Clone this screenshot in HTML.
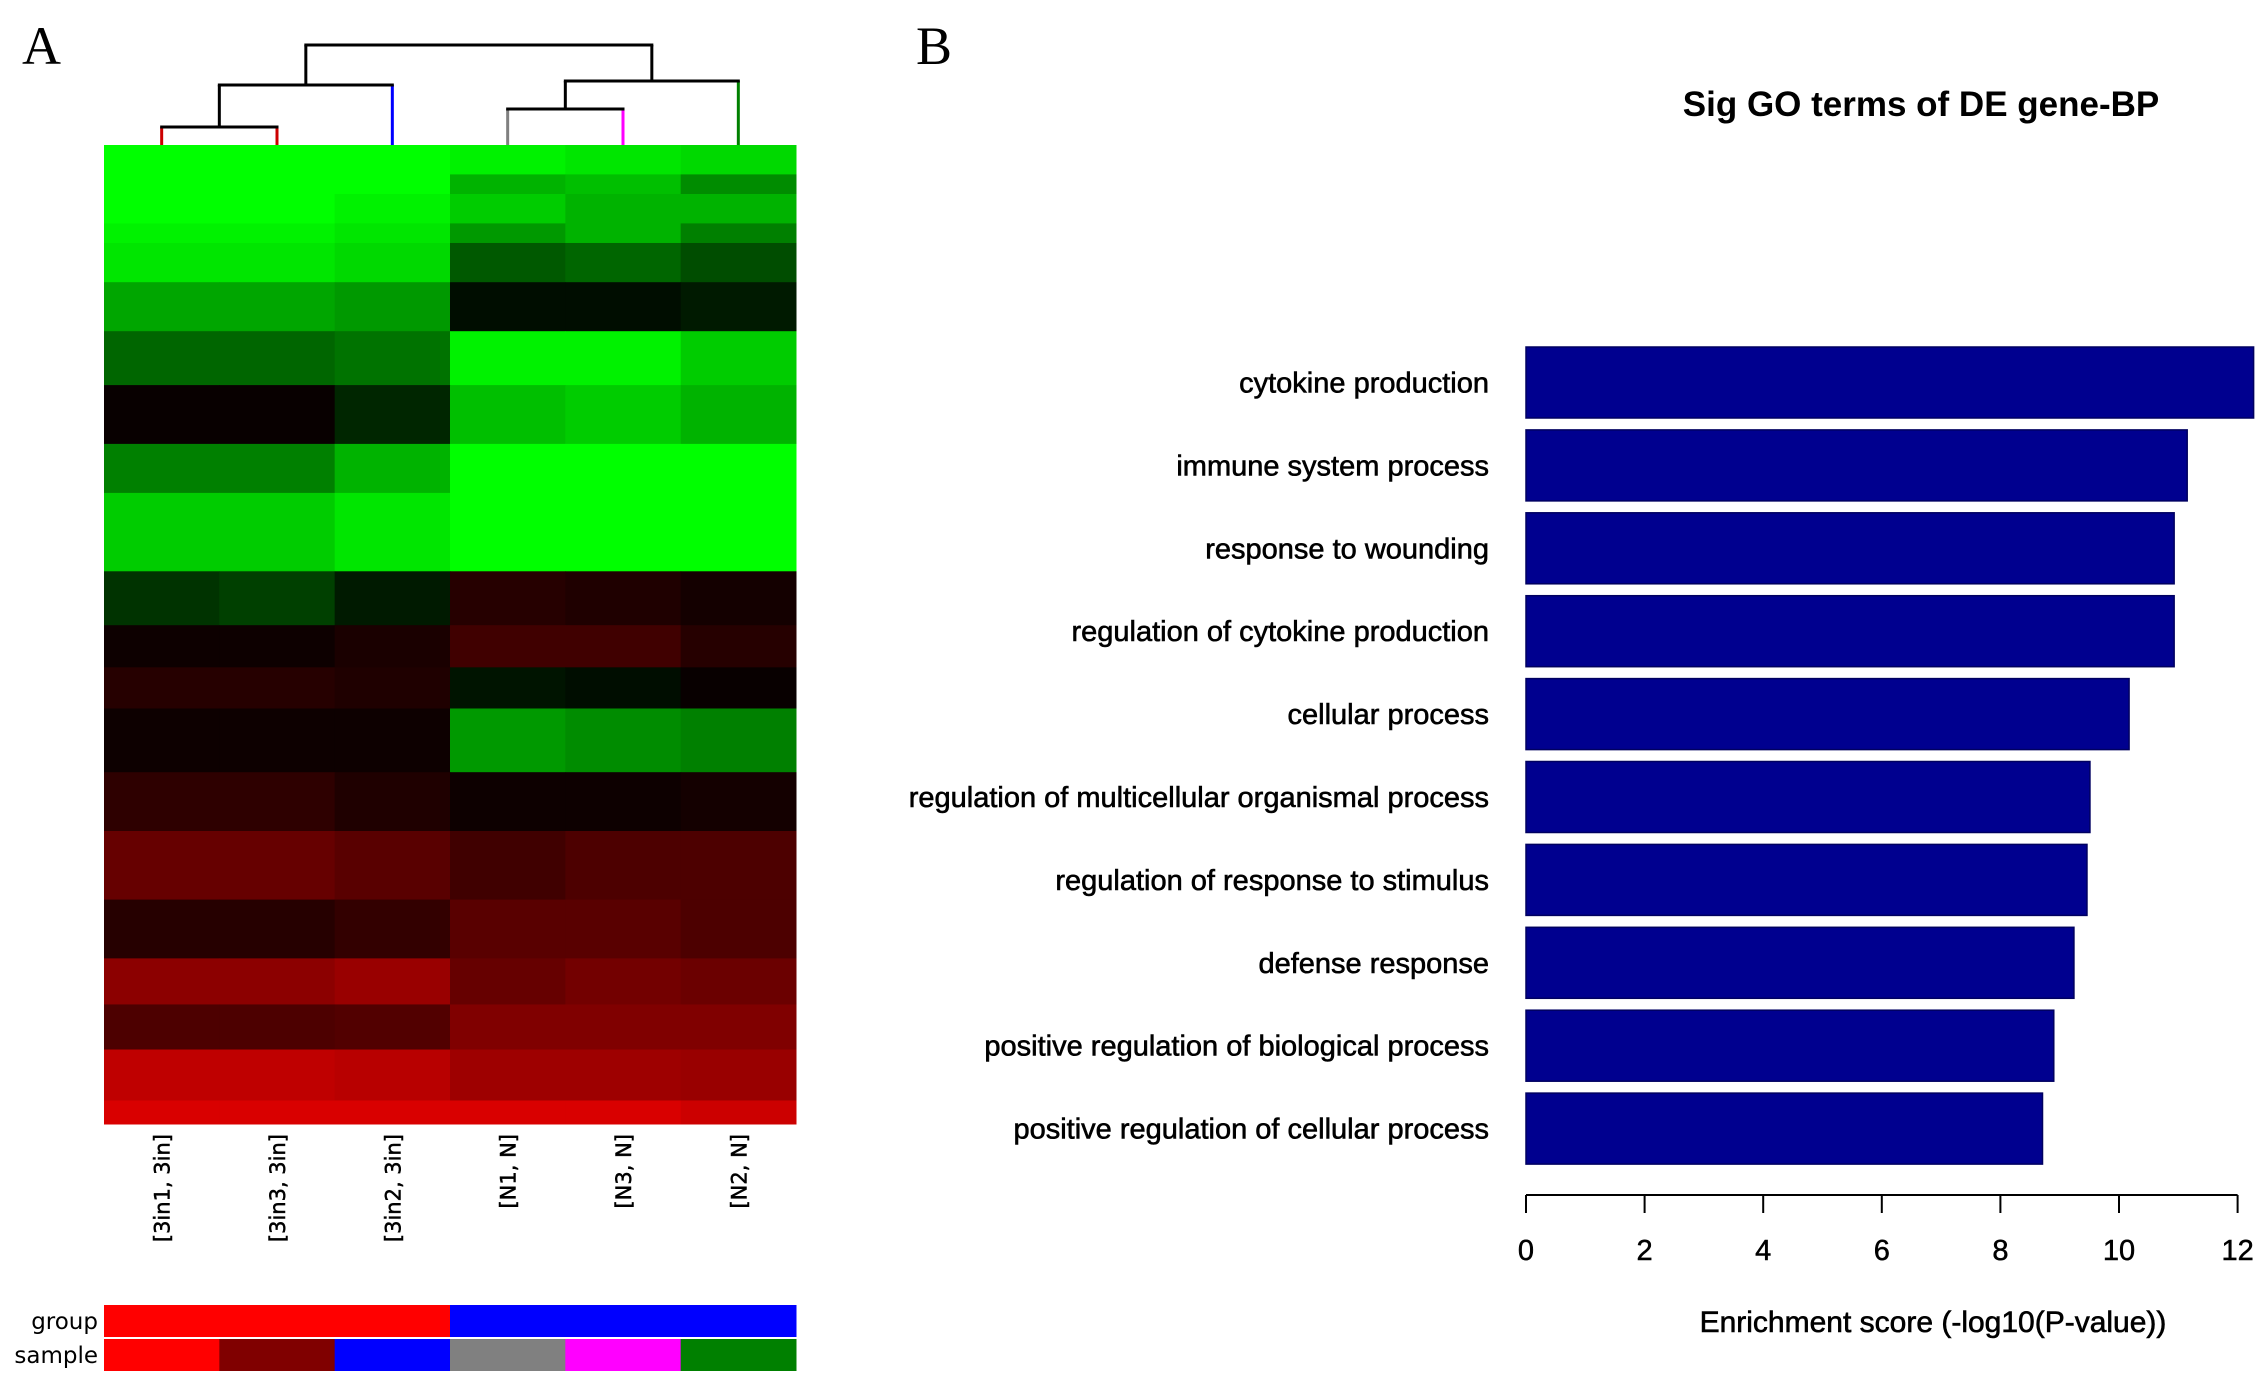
<!DOCTYPE html>
<html><head><meta charset="utf-8"><style>
html,body{margin:0;padding:0;background:#fff;}
svg{display:block;font-family:"Liberation Sans",Arial,sans-serif;}
</style></head><body>
<svg id="fig" width="2268" height="1385" viewBox="0 0 2268 1385" xmlns="http://www.w3.org/2000/svg">
<text x="22" y="64" font-family="Liberation Serif,serif" font-size="54">A</text>
<text x="916" y="64" font-family="Liberation Serif,serif" font-size="54">B</text>
<g id="heat"></g>
<g id="dend"></g>
<g id="collabs"></g>
<g id="anno"></g>
<text x="1921" y="116" text-anchor="middle" font-size="35" font-weight="bold">Sig GO terms of DE gene-BP</text>
<g id="bars"></g>
<g id="xaxis"></g>
<text x="1933" y="1332" text-anchor="middle" font-size="30" stroke="#000" stroke-width="0.6">Enrichment score (-log10(P-value))</text>
</svg>
<script>
// ---------- Heatmap data ----------
const sampleNames = ["[3in1, 3in]","[3in3, 3in]","[3in2, 3in]","[N1, N]","[N3, N]","[N2, N]"];
const blockRows = [30,20,30,20,40,50,55,60,50,80,55,43,42,65,60,70,60,47,46,52,24];
const blockValues = [
 [-1,-1,-1,-0.95,-0.9,-0.85],
 [-1,-1,-1,-0.7,-0.75,-0.55],
 [-1,-1,-0.95,-0.8,-0.7,-0.7],
 [-0.95,-0.95,-0.9,-0.6,-0.7,-0.5],
 [-0.9,-0.9,-0.85,-0.35,-0.4,-0.3],
 [-0.65,-0.65,-0.6,-0.05,-0.05,-0.1],
 [-0.4,-0.4,-0.45,-0.95,-0.95,-0.8],
 [0.03,0.03,-0.15,-0.75,-0.8,-0.7],
 [-0.5,-0.5,-0.7,-1,-1,-1],
 [-0.8,-0.8,-0.9,-1,-1,-1],
 [-0.2,-0.25,-0.1,0.15,0.12,0.08],
 [0.05,0.05,0.1,0.25,0.25,0.15],
 [0.15,0.15,0.12,-0.08,-0.05,0.03],
 [0.05,0.05,0.05,-0.6,-0.55,-0.5],
 [0.18,0.18,0.12,0.05,0.05,0.08],
 [0.4,0.4,0.35,0.25,0.3,0.3],
 [0.15,0.15,0.2,0.35,0.35,0.3],
 [0.55,0.55,0.6,0.4,0.45,0.42],
 [0.3,0.3,0.32,0.5,0.5,0.5],
 [0.75,0.75,0.72,0.62,0.62,0.6],
 [0.85,0.85,0.85,0.85,0.85,0.8]
];
const groupColors = ["#ff0000","#ff0000","#ff0000","#0000ff","#0000ff","#0000ff"];
const sampleColors = ["#ff0000","#800000","#0000ff","#808080","#ff00ff","#008000"];
const leafColors = ["#cc0000","#cc0000","#0000ff","#808080","#ff00ff","#008000"];
const merges = [[0,1,0.18],[3,4,0.36],[6,2,0.6],[7,5,0.64],[8,9,1.0]];

const NS="http://www.w3.org/2000/svg";
function mk(tag,attrs,parent){const e=document.createElementNS(NS,tag);for(const k in attrs)e.setAttribute(k,attrs[k]);parent.appendChild(e);return e;}
const HX0=104,HX1=796,HY0=145,HY1=1124;
const nCol=sampleNames.length, colW=(HX1-HX0)/nCol;
const totalRows=blockRows.reduce((a,b)=>a+b,0);
const rowScale=v=>HY0+(HY1-HY0)*v/totalRows;
const colX=i=>HX0+i*colW;
function color(v){const c=Math.round(Math.min(1,Math.abs(v))*255);return v<0?`rgb(0,${c},0)`:`rgb(${c},0,0)`;}
const heat=document.getElementById('heat');
let acc=0;
blockRows.forEach((n,b)=>{
  for(let j=0;j<nCol;j++){
    const r=mk('rect',{x:colX(j),y:rowScale(acc),width:colW+0.5,height:rowScale(acc+n)-rowScale(acc)+0.5,fill:color(blockValues[b][j])},heat);
    
    
  }
  acc+=n;
});
const dend=document.getElementById('dend');
const DY0=145,DY1=45;
const hScale=h=>DY0-(DY0-DY1)*h;
const nodes=[];
for(let i=0;i<nCol;i++)nodes.push({x:colX(i)+colW/2,h:0,c:leafColors[i]});
merges.forEach(m=>{
  const a=nodes[m[0]],b=nodes[m[1]],y=hScale(m[2]);
  const la=mk('line',{x1:a.x,y1:hScale(a.h),x2:a.x,y2:y,stroke:a.c||'#000','stroke-width':3},dend);
  
  
  const lb=mk('line',{x1:b.x,y1:hScale(b.h),x2:b.x,y2:y,stroke:b.c||'#000','stroke-width':3},dend);
  
  
  const lh=mk('line',{x1:a.x-1.5,y1:y,x2:b.x+1.5,y2:y,stroke:'#000','stroke-width':3},dend);
  
  
  nodes.push({x:(a.x+b.x)/2,h:m[2],c:'#000'});
});
const cl=document.getElementById('collabs');
sampleNames.forEach((s,i)=>{
  const x=colX(i)+colW/2+8,y=1134;
  const t=mk('text',{x:x,y:y,transform:`rotate(-90 ${x} ${y})`,'text-anchor':'end','font-size':21,stroke:'#000','stroke-width':0.5,'font-family':'DejaVu Sans,Liberation Sans,sans-serif'},cl);
  t.textContent=s;
  
  
});
const an=document.getElementById('anno');
[[groupColors,1305,'group'],[sampleColors,1339,'sample']].forEach(([cols,y,lab])=>{
  cols.forEach((c,i)=>{
    const r=mk('rect',{x:colX(i),y:y,width:colW+0.5,height:32,fill:c},an);
    
    
  });
  const t=mk('text',{x:98,y:y+24,'text-anchor':'end','font-size':23,'font-family':'DejaVu Sans,Liberation Sans,sans-serif'},an);
  t.textContent=lab;
  
  
});

// ---------- Bar chart data ----------
const goTerms = ["cytokine production","immune system process","response to wounding","regulation of cytokine production","cellular process","regulation of multicellular organismal process","regulation of response to stimulus","defense response","positive regulation of biological process","positive regulation of cellular process"];
const scores = [12.27,11.15,10.93,10.93,10.17,9.51,9.46,9.24,8.9,8.71];
const xTicks = [0,2,4,6,8,10,12];
const BX0=1526, PXU=59.3, BY0=347, PITCH=82.9, BH=71;
const xs=v=>BX0+v*PXU;
const ys=i=>BY0+i*PITCH;
const bars=document.getElementById('bars');
goTerms.forEach((g,i)=>{
  const r=mk('rect',{x:xs(0),y:ys(i),width:xs(scores[i])-xs(0),height:BH,fill:'#00008f',stroke:'#000060','stroke-width':1.5},bars);
  
  
  const t=mk('text',{x:1489,y:ys(i)+BH/2+10,'text-anchor':'end','font-size':29,stroke:'#000','stroke-width':0.6},bars);
  t.textContent=g;
  
  
});
const ax=document.getElementById('xaxis');
const al=mk('line',{x1:xs(xTicks[0]),y1:1195,x2:xs(xTicks[xTicks.length-1]),y2:1195,stroke:'#000','stroke-width':2},ax);


xTicks.forEach(v=>{
  const l=mk('line',{x1:xs(v),y1:1195,x2:xs(v),y2:1213,stroke:'#000','stroke-width':2},ax);
  
  
  const t=mk('text',{x:xs(v),y:1260,'text-anchor':'middle','font-size':29,stroke:'#000','stroke-width':0.5},ax);
  t.textContent=v;
  
  
});
</script>
</body></html>
